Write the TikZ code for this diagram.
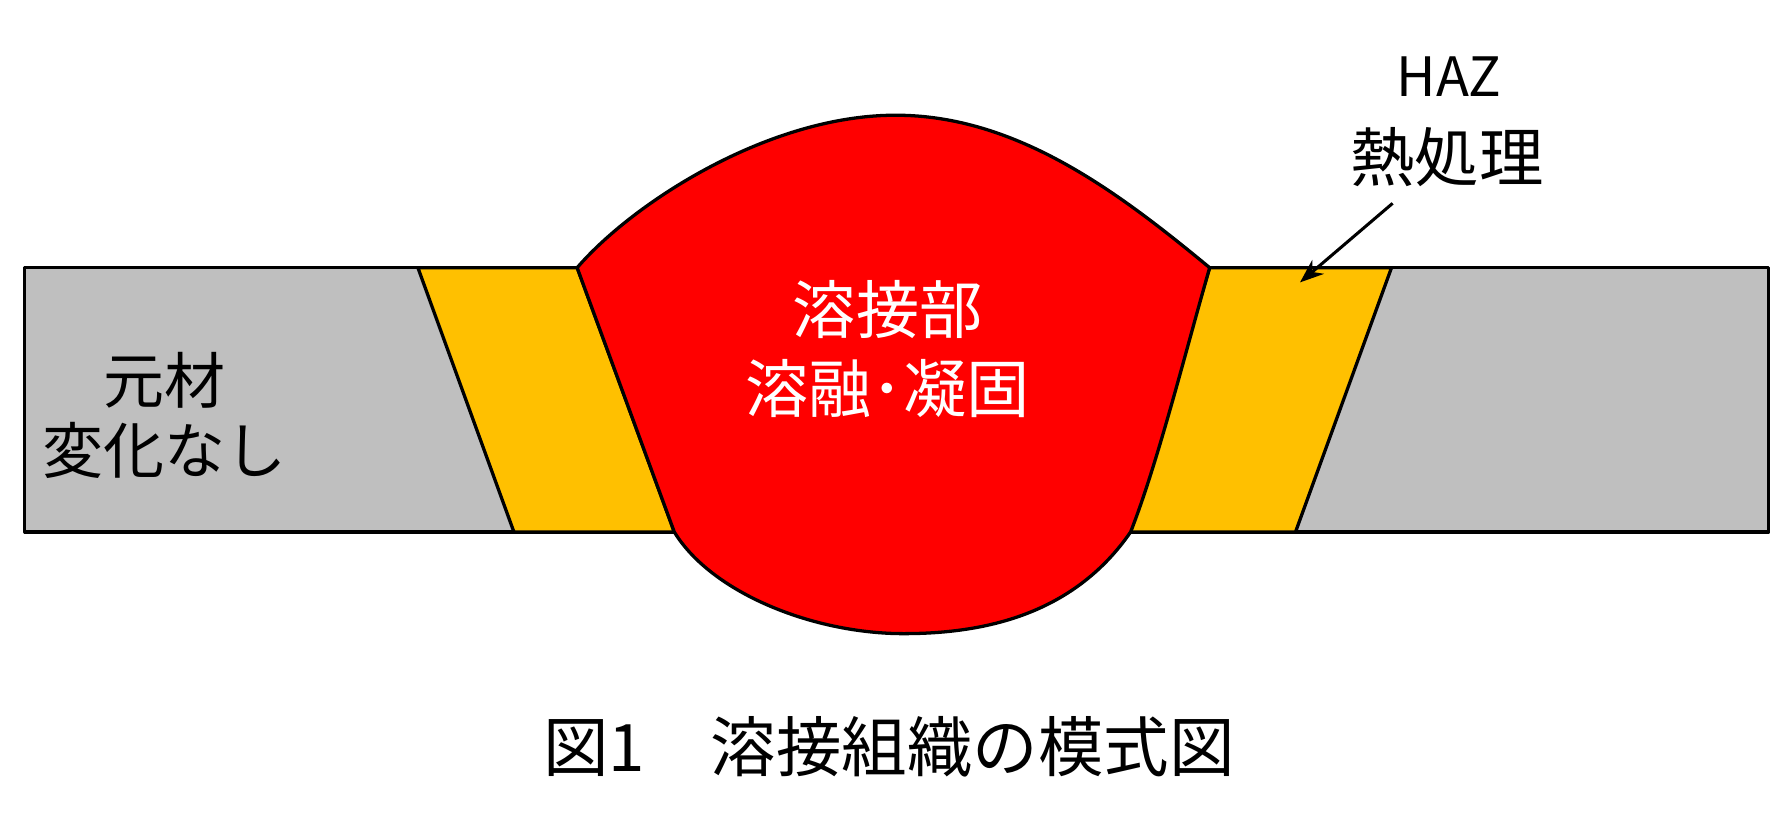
\documentclass[tikz,border=0pt]{standalone}
\usepackage{fontspec}
\newfontfamily\jp{Noto Sans CJK JP}
\usetikzlibrary{arrows.meta}
\definecolor{basegray}{RGB}{191,191,191}
\definecolor{hazorange}{RGB}{255,192,0}
\definecolor{weldred}{RGB}{255,0,0}
\tikzset{
  zone/.style={draw=black, line width=2.9pt, line join=round},
  lbl/.style={font=\jp\fontsize{55}{62}\selectfont, align=center, inner sep=0pt},
  lead/.style={draw=black, line width=2.7pt, -{Stealth[length=21pt,width=16pt]}}
}
\begin{document}
\begin{tikzpicture}[x=1pt,y=-1pt]
\useasboundingbox (0,0) rectangle (1568,732);
% base metal plate
\path[zone, fill=basegray] (22,237) rectangle (1566,471);
% HAZ zones
\path[zone, fill=hazorange] (370,237) -- (511,237) -- (597,471) -- (455,471) -- cycle;
\path[zone, fill=hazorange] (1071,237) -- (1232,237) -- (1147,471) -- (1001,471) -- cycle;
% weld metal
\path[zone, fill=weldred] (511,237) .. controls (560,180) and (680,102) .. (793,102)
  .. controls (900,102) and (990,170) .. (1071,237)
  .. controls (1050,310) and (1025,410) .. (1001,471)
  .. controls (950,545) and (870,561) .. (800,561)
  .. controls (720,561) and (630,525) .. (597,471)
  -- cycle;
% labels
\node[lbl, text=white, font=\jp\fontsize{56}{70}\selectfont] (weld) at (786,309) {溶接部\\溶融･凝固};
\node[lbl, font=\jp\fontsize{54}{62}\selectfont] (base) at (146,368) {元材\\変化なし};
\node[lbl, font=\jp\fontsize{48}{52}\selectfont] (haz) at (1283,68) {HAZ};
\node[lbl, font=\jp\fontsize{57}{62}\selectfont] (heat) at (1281,139) {熱処理};
\node[lbl, font=\jp\fontsize{58}{62}\selectfont] (cap) at (787,661) {図1　溶接組織の模式図};
% leader arrow
\coordinate (arrS) at (1233,180);
\coordinate (arrE) at (1151,250);
\draw[lead] (arrS) -- (arrE);
\end{tikzpicture}
\end{document}
